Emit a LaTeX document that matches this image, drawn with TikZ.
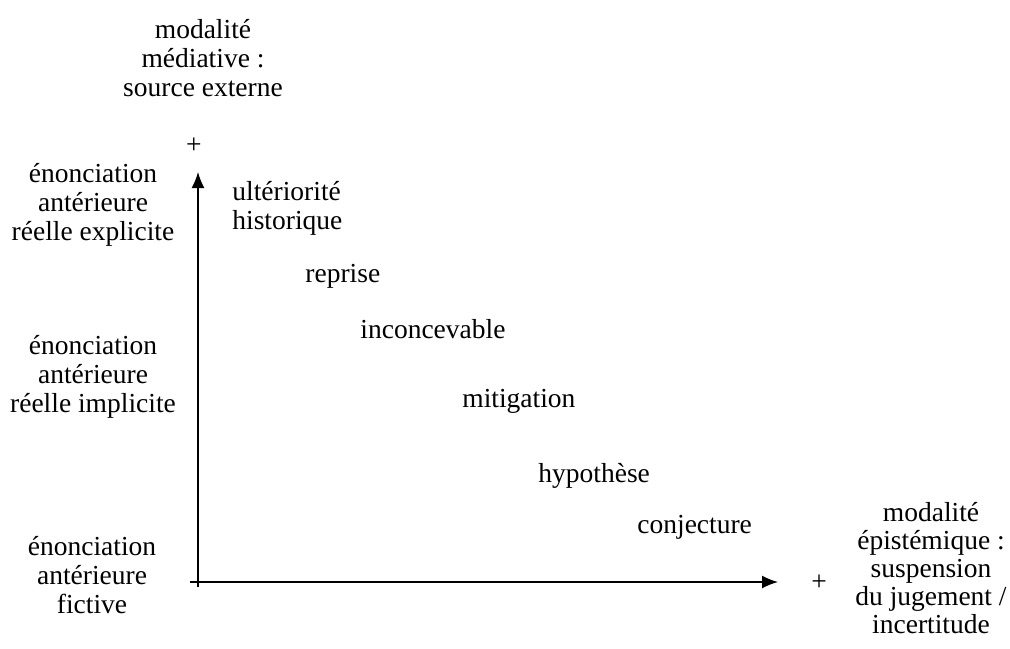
\documentclass[tikz,border=0pt]{standalone}
\usepackage{fontspec}
\setmainfont{Liberation Serif}
\usetikzlibrary{arrows.meta}

\begin{document}
\begin{tikzpicture}[x=0.5pt,y=-0.5pt,
    lbl/.style={inner sep=0pt,align=center,font=\fontsize{13.75}{14.5}\selectfont},
    mode/.style={lbl,anchor=base west,align=left},
    axis/.style={line width=0.75pt,-{Latex[length=8pt,width=6.5pt]}}]
    \useasboundingbox (0,0) rectangle (1010,648);
    % Axes
    \coordinate (ybot) at (198,587);
    \coordinate (ytip) at (198,172);
    \coordinate (xbot) at (190,582);
    \coordinate (xtip) at (778,582);
    \draw[axis] (ybot) -- (ytip);
    \draw[axis] (xbot) -- (xtip);
    \node[lbl] (yplus) at (194,146) {+};
    \node[lbl] (xplus) at (819,583) {+};
    % Axis titles (anchored on their last line)
    \node[lbl,anchor=base] (med) at (203,96) {modalité\\médiative :\\source externe};
    \node[lbl,anchor=base,font=\fontsize{13.75}{14}\selectfont] (epi) at (931,633)
      {modalité\\épistémique :\\suspension\\du jugement /\\incertitude};
    % Levels on the vertical axis
    \node[lbl,anchor=base] (expl) at (93,240) {énonciation\\antérieure\\réelle explicite};
    \node[lbl,anchor=base] (impl) at (93,412) {énonciation\\antérieure\\réelle implicite};
    \node[lbl,anchor=base] (fict) at (92,613) {énonciation\\antérieure\\fictive};
    % The values, from top left to bottom right
    \foreach \name/\x/\y/\txt in {ult/232/229/ultériorité\\historique,
        rep/305/282/reprise, inc/360/338/inconcevable, mit/462/407/mitigation,
        hyp/538/482/hypothèse, con/637/533/conjecture}{
      \node[mode] (\name) at (\x,\y) {\txt};
    }
\end{tikzpicture}
\end{document}
